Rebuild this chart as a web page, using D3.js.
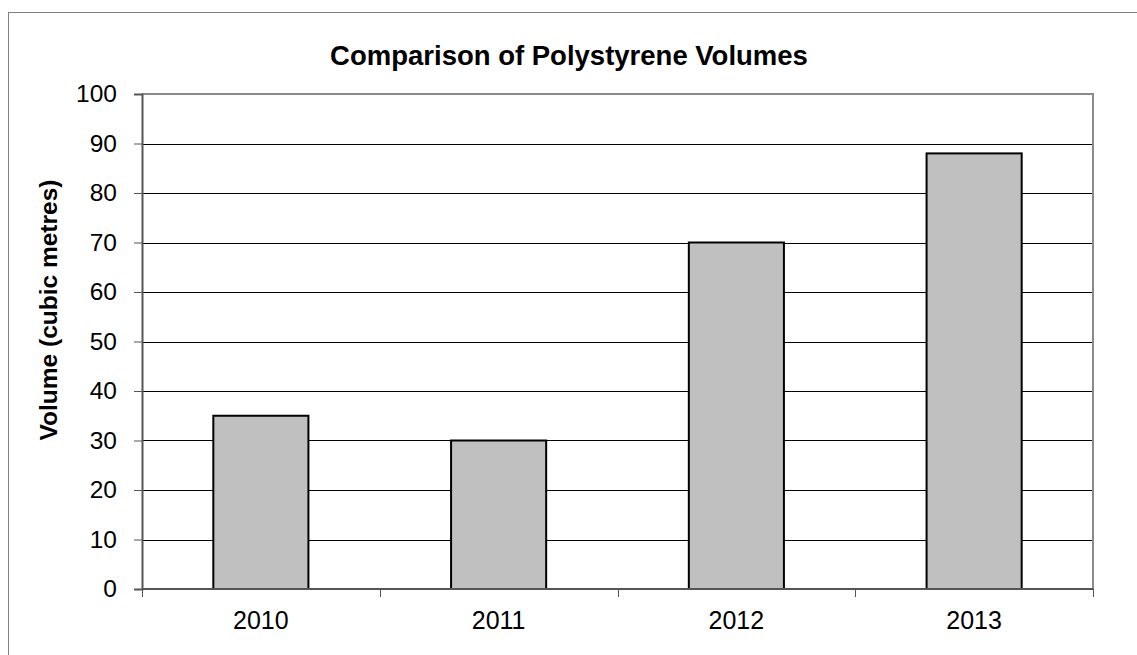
<!DOCTYPE html>
<html>
<head>
<meta charset="utf-8">
<script src="https://cdn.jsdelivr.net/npm/d3@7"></script>
<style>
  html, body { margin: 0; padding: 0; background: #fff; }
  svg { display: block; font-family: Arial, "Liberation Sans", sans-serif; }
</style>
</head>
<body>
<svg id="chart" width="1137" height="655"></svg>
<script>
// Polystyrene volumes by year (cubic metres)
const years = ["2010", "2011", "2012", "2013"];
const volumes = [35, 30, 70, 88];
const yTicks = [0, 10, 20, 30, 40, 50, 60, 70, 80, 90, 100];

const svg = d3.select("#chart");
const plot = { left: 142, right: 1093, top: 94, bottom: 589 };

// Outer chart frame
svg.append("rect")
  .attr("x", 8.5).attr("y", 12.5)
  .attr("width", 1140).attr("height", 660)
  .attr("fill", "#fff").attr("stroke", "#808080").attr("stroke-width", 1);

const x = d3.scaleBand().domain(years).range([plot.left, plot.right]).paddingInner(0.6).paddingOuter(0.3);
const xEdges = d3.scaleBand().domain(years).range([plot.left, plot.right]);
const y = d3.scaleLinear().domain([0, 100]).range([plot.bottom, plot.top]);

// Horizontal gridlines
svg.append("g").selectAll("line")
  .data(yTicks.filter(t => t > 0 && t < 100))
  .join("line")
  .attr("x1", plot.left).attr("x2", plot.right)
  .attr("y1", d => Math.round(y(d)) + 0.5).attr("y2", d => Math.round(y(d)) + 0.5)
  .attr("stroke", "#000").attr("stroke-width", 1);

// Plot area top and right edges
svg.append("path")
  .attr("d", `M${plot.left},${plot.top} H${plot.right} V${plot.bottom}`)
  .attr("fill", "none").attr("stroke", "#8a8a8a").attr("stroke-width", 2);

// Bars
svg.append("g").selectAll("rect")
  .data(years.map((yr, i) => ({ yr, v: volumes[i] })))
  .join("rect")
  .attr("x", d => x(d.yr))
  .attr("y", d => y(d.v))
  .attr("width", x.bandwidth())
  .attr("height", d => y(0) - y(d.v))
  .attr("fill", "#c0c0c0").attr("stroke", "#000").attr("stroke-width", 2);

// Y axis
const yAxis = d3.axisLeft(y).tickValues(yTicks).tickSize(8).tickPadding(17);
const gy = svg.append("g").attr("transform", `translate(${plot.left},0)`).call(yAxis);
gy.select(".domain").attr("stroke", "#555").attr("stroke-width", 2);
gy.selectAll(".tick line").attr("stroke", "#555").attr("stroke-width", 1);
gy.selectAll(".tick text").attr("font-size", 24.5).attr("fill", "#000")
  .attr("font-family", "Arial, 'Liberation Sans', sans-serif");

// X axis: ticks at category boundaries
const edges = years.map(d => xEdges(d)).concat([plot.right]);
svg.append("line")
  .attr("x1", plot.left).attr("x2", plot.right)
  .attr("y1", plot.bottom).attr("y2", plot.bottom)
  .attr("stroke", "#555").attr("stroke-width", 2);
svg.append("g").selectAll("line")
  .data(edges)
  .join("line")
  .attr("x1", d => Math.round(d) + 0.5).attr("x2", d => Math.round(d) + 0.5)
  .attr("y1", plot.bottom).attr("y2", plot.bottom + 8)
  .attr("stroke", "#555").attr("stroke-width", 1);
svg.append("g").selectAll("text")
  .data(years)
  .join("text")
  .attr("x", d => xEdges(d) + xEdges.bandwidth() / 2)
  .attr("y", 629)
  .attr("text-anchor", "middle")
  .attr("font-size", 25)
  .attr("fill", "#000")
  .text(d => d);

// Title
svg.append("text")
  .attr("x", 569).attr("y", 65)
  .attr("text-anchor", "middle")
  .attr("font-size", 27.5).attr("font-weight", "bold")
  .text("Comparison of Polystyrene Volumes");

// Y axis title
svg.append("text")
  .attr("transform", "translate(57,310) rotate(-90)")
  .attr("text-anchor", "middle")
  .attr("font-size", 24.5).attr("font-weight", "bold")
  .text("Volume (cubic metres)");
</script>
</body>
</html>
